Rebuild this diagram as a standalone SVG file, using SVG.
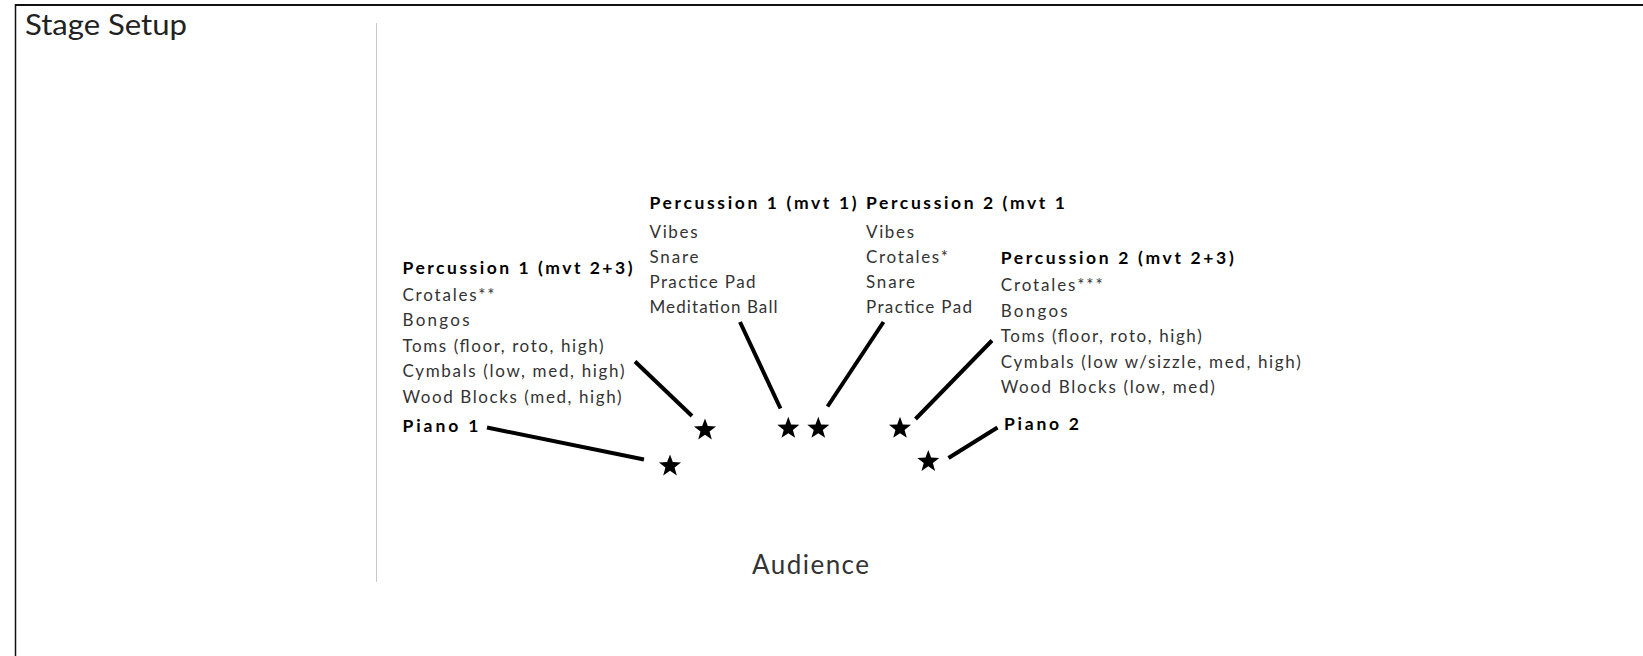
<svg xmlns="http://www.w3.org/2000/svg" xmlns:xlink="http://www.w3.org/1999/xlink" width="1643" height="656" viewBox="0 0 1643 656">
<style>
  .title { font-family: Lato, "Liberation Sans", sans-serif; font-size: 28px; fill: #222; }
  .hd { font-family: Lato, "Liberation Sans", sans-serif; font-size: 17.5px; font-weight: bold; fill: #000; }
  .it { font-family: Lato, "Liberation Sans", sans-serif; font-size: 17px; fill: #333; }
  .aud { font-family: Lato, "Liberation Sans", sans-serif; font-size: 26px; fill: #333; }
  .conn line { stroke: #000; stroke-width: 4; stroke-linecap: butt; }
  .star { fill: #000; }
</style>
<defs>
  <path id="star" d="M0,-11.6 L2.82,-3.88 L11.03,-3.58 L4.57,1.48 L6.82,9.38 L0,4.8 L-6.82,9.38 L-4.57,1.48 L-11.03,-3.58 L-2.82,-3.88 Z"/>
</defs>
<rect x="0" y="0" width="1643" height="656" fill="#fff"/>
<g id="frame">
  <line x1="1643" y1="5" x2="15.5" y2="5" stroke="#111" stroke-width="2"/>
  <line x1="15.5" y1="4" x2="15.5" y2="656" stroke="#111" stroke-width="1.5"/>
  <line x1="376.5" y1="23" x2="376.5" y2="582" stroke="#c8c8c8" stroke-width="1"/>
  <text class="title" x="25" y="35" textLength="162" lengthAdjust="spacingAndGlyphs">Stage Setup</text>
</g>
<g id="connectors" class="conn">
  <line x1="635" y1="361.5" x2="692" y2="416"/>
  <line x1="487" y1="427.5" x2="644" y2="459.5"/>
  <line x1="740" y1="322" x2="780.5" y2="408.5"/>
  <line x1="883.5" y1="322" x2="827.5" y2="406.5"/>
  <line x1="992" y1="340.5" x2="915.5" y2="419"/>
  <line x1="948.5" y1="458" x2="997.5" y2="427.5"/>
</g>
<g id="perc1-mvt23">
  <text class="hd" x="402.5" y="273.5" textLength="230" lengthAdjust="spacing">Percussion 1 (mvt 2+3)</text>
  <text class="it" x="402.5" y="300.5" textLength="92" lengthAdjust="spacing">Crotales**</text>
  <text class="it" x="402.5" y="326" textLength="67" lengthAdjust="spacing">Bongos</text>
  <text class="it" x="402.5" y="351.5" textLength="201" lengthAdjust="spacing">Toms (floor, roto, high)</text>
  <text class="it" x="402.5" y="377" textLength="222" lengthAdjust="spacing">Cymbals (low, med, high)</text>
  <text class="it" x="402.5" y="402.5" textLength="219" lengthAdjust="spacing">Wood Blocks (med, high)</text>
  <use href="#star" class="star" x="705" y="430"/>
</g>
<g id="piano1">
  <text class="hd" x="402.5" y="432" textLength="76" lengthAdjust="spacing">Piano 1</text>
  <use href="#star" class="star" x="670" y="466"/>
</g>
<g id="perc1-mvt1">
  <text class="hd" x="649.5" y="208.5" textLength="207" lengthAdjust="spacing">Percussion 1 (mvt 1)</text>
  <text class="it" x="649.5" y="237.5" textLength="48" lengthAdjust="spacing">Vibes</text>
  <text class="it" x="649.5" y="262.5" textLength="49" lengthAdjust="spacing">Snare</text>
  <text class="it" x="649.5" y="287.5" textLength="106" lengthAdjust="spacing">Practice Pad</text>
  <text class="it" x="649.5" y="312.5" textLength="128" lengthAdjust="spacing">Meditation Ball</text>
  <use href="#star" class="star" x="788.3" y="428.4"/>
</g>
<g id="perc2-mvt1">
  <text class="hd" x="866" y="208.5" textLength="199" lengthAdjust="spacing">Percussion 2 (mvt 1</text>
  <text class="it" x="866" y="237.5" textLength="48" lengthAdjust="spacing">Vibes</text>
  <text class="it" x="866" y="262.5" textLength="82" lengthAdjust="spacing">Crotales*</text>
  <text class="it" x="866" y="287.5" textLength="49" lengthAdjust="spacing">Snare</text>
  <text class="it" x="866" y="312.5" textLength="106" lengthAdjust="spacing">Practice Pad</text>
  <use href="#star" class="star" x="818.3" y="428.4"/>
</g>
<g id="perc2-mvt23">
  <text class="hd" x="1000.7" y="263.5" textLength="233" lengthAdjust="spacing">Percussion 2 (mvt 2+3)</text>
  <text class="it" x="1000.7" y="291" textLength="102" lengthAdjust="spacing">Crotales***</text>
  <text class="it" x="1000.7" y="316.5" textLength="67" lengthAdjust="spacing">Bongos</text>
  <text class="it" x="1000.7" y="342" textLength="201" lengthAdjust="spacing">Toms (floor, roto, high)</text>
  <text class="it" x="1000.7" y="367.5" textLength="300" lengthAdjust="spacing">Cymbals (low w/sizzle, med, high)</text>
  <text class="it" x="1000.7" y="393" textLength="214" lengthAdjust="spacing">Wood Blocks (low, med)</text>
  <use href="#star" class="star" x="900" y="428.4"/>
</g>
<g id="piano2">
  <text class="hd" x="1004" y="429.5" textLength="75" lengthAdjust="spacing">Piano 2</text>
  <use href="#star" class="star" x="928.3" y="461.5"/>
</g>
<g id="audience">
  <text class="aud" x="752" y="574" textLength="117" lengthAdjust="spacing">Audience</text>
</g>
</svg>
